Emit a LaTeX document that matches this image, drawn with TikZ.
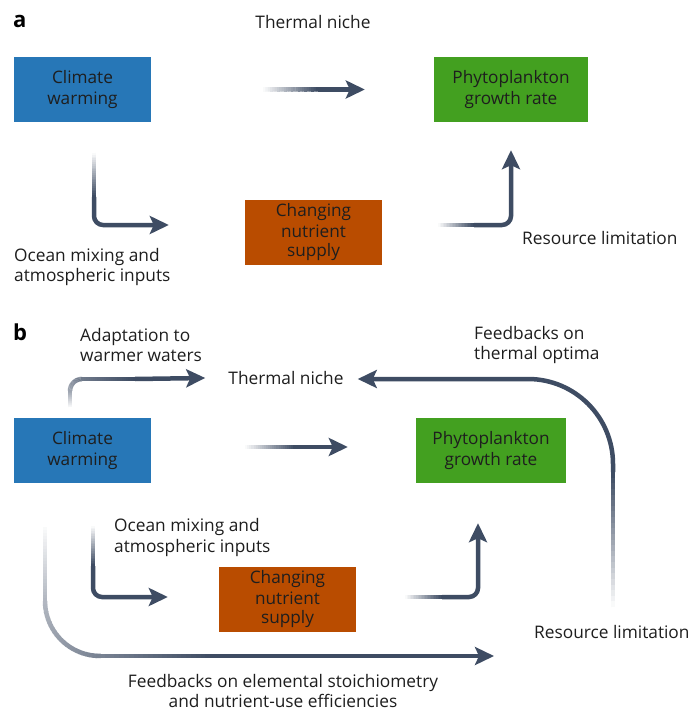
\documentclass[tikz,border=0pt]{standalone}
\usepackage{fontspec}
\setmainfont{Open Sans}
\usetikzlibrary{arrows.meta,calc}
\definecolor{arr}{HTML}{3E4C63}
\definecolor{cblue}{HTML}{2777B7}
\definecolor{cgreen}{HTML}{43A020}
\definecolor{corange}{HTML}{B94C00}
\definecolor{txt}{HTML}{1E1E1E}
\tikzset{
  arrline/.style={line width=4.5pt, line cap=butt},
  arrow/.style={arrline, draw=arr, -{Stealth[length=19pt,width=18pt,inset=4pt]}},
  box/.style={minimum height=65pt, inner sep=0pt, align=center, text=txt,
    font=\fontsize{17.2}{20.5}\selectfont},
  lbl/.style={inner sep=0pt, align=left, text=txt, font=\fontsize{17.3}{20.5}\selectfont},
  clbl/.style={lbl, align=center},
  panel/.style={inner sep=0pt, font=\fontsize{22}{24}\selectfont\bfseries, text=black}
}
% gradient straight segment from (#1) to (#2), colour #3 -> #4 percent
\newcommand\gline[4]{%
  \foreach \k in {0,...,23}{%
    \pgfmathsetmacro\fa{\k/24}%
    \pgfmathsetmacro\fb{(\k+1.2)/24}%
    \pgfmathsetmacro\cc{#3+(#4-#3)*\k/23}%
    \draw[arrline, draw=arr!\cc!white] ($(#1)!\fa!(#2)$) -- ($(#1)!\fb!(#2)$);
  }}
% gradient arc: centre (#1,#2), radius #3, angles #4 -> #5, colour #6 -> #7
\newcommand\garc[7]{%
  \foreach \k in {0,...,23}{%
    \pgfmathsetmacro\aa{#4+(#5-#4)*\k/24}%
    \pgfmathsetmacro\ab{#4+(#5-#4)*(\k+1.2)/24}%
    \pgfmathsetmacro\cc{#6+(#7-#6)*\k/23}%
    \pgfmathsetmacro\px{#1+#3*cos(\aa)}%
    \pgfmathsetmacro\py{#2+#3*sin(\aa)}%
    \draw[arrline, draw=arr!\cc!white] (\px,\py) arc[start angle=\aa, end angle=\ab, radius=#3];
  }}
\begin{document}
\begin{tikzpicture}[x=1pt,y=-1pt]
\useasboundingbox[fill=white] (0,0) rectangle (691,711);

% ---------------- panel a ----------------
\node[panel, anchor=west] (pa) at (13,21) {a};
\node[clbl] (thA) at (313,22) {Thermal niche};
\node[box, fill=cblue, minimum width=137pt] (cwA) at (82.5,89.5) {Climate\\warming};
\node[box, fill=cgreen, minimum width=154pt] (phA) at (511,89.5) {Phytoplankton\\growth rate};
\node[box, fill=corange, minimum width=137pt] (nuA) at (313.5,232.5) {Changing\\nutrient\\[-1pt]supply};
\node[lbl, anchor=west] (omA) at (14,267) {Ocean mixing and\\atmospheric inputs};
\node[lbl, anchor=west] (rlA) at (522,238) {Resource limitation};

\coordinate (a1s) at ($(cwA.east)+(112,0)$);
\coordinate (a1m) at ($(cwA.east)+(167,0)$);
\coordinate (a1e) at ($(phA.west)+(-69,0)$);
\gline{a1s}{a1m}{3}{100}
\draw[arrow] (a1m) -- (a1e);

\coordinate (a2s) at (94,153);
\coordinate (a2m) at (94,197);
\coordinate (a2e) at ($(nuA.west)+(-76,-7.5)$);
\gline{a2s}{a2m}{3}{100}
\draw[arrow, rounded corners=9pt] (a2m) |- (a2e);

\coordinate (a3s) at ($(nuA.east)+(56,-7.5)$);
\coordinate (a3m) at ($(nuA.east)+(92,-7.5)$);
\coordinate (a3e) at ($(phA.south)+(0,28)$);
\gline{a3s}{a3m}{3}{100}
\draw[arrow, rounded corners=9pt] (a3m) -| (a3e);

% ---------------- panel b ----------------
\node[panel, anchor=west] (pb) at (13,332) {b};
\node[lbl, anchor=west] (adB) at (80,345) {Adaptation to\\warmer waters};
\node[clbl] (thB) at (286,378) {Thermal niche};
\node[lbl, anchor=west] (ftB) at (474,345) {Feedbacks on\\thermal optima};
\node[box, fill=cblue, minimum width=137pt] (cwB) at (82.5,450.5) {Climate\\warming};
\node[box, fill=cgreen, minimum width=150pt] (phB) at (491,450.5) {Phytoplankton\\growth rate};
\node[lbl, anchor=west] (omB) at (114,537.5) {Ocean mixing and\\atmospheric inputs};
\node[box, fill=corange, minimum width=137pt] (nuB) at (287.5,599.5) {Changing\\nutrient\\[-1pt]supply};
\node[lbl, anchor=west] (rlB) at (534,632) {Resource limitation};
\node[clbl] (feB) at (283,691) {Feedbacks on elemental stoichiometry\\and nutrient-use efficiencies};

% adaptation arrow
\coordinate (b1s) at (70,407);
\coordinate (b1m) at (70,391);
\coordinate (b1n) at (82,379);
\coordinate (b1o) at (135,379);
\coordinate (b1e) at ($(thB.west)+(-23,0)$);
\gline{b1s}{b1m}{3}{50}
\garc{82}{391}{12}{180}{270}{50}{75}
\gline{b1n}{b1o}{75}{100}
\draw[arrow] (b1o) -- (b1e);

% thermal niche horizontal
\coordinate (b2s) at ($(cwB.east)+(94,-3.5)$);
\coordinate (b2m) at ($(cwB.east)+(144,-3.5)$);
\coordinate (b2e) at ($(phB.west)+(-68,-3.5)$);
\gline{b2s}{b2m}{3}{100}
\draw[arrow] (b2m) -- (b2e);

% feedbacks on thermal optima
\coordinate (b3s) at (613,607);
\coordinate (b3m) at (613,472);
\coordinate (b3e) at ($(thB.east)+(14,1)$);
\gline{b3s}{b3m}{3}{100}
\draw[arrow, rounded corners=85pt] (b3m) |- (b3e);

% ocean mixing arrow
\coordinate (b4s) at (93,526);
\coordinate (b4m) at (93,566);
\coordinate (b4e) at ($(nuB.west)+(-51,-2.5)$);
\gline{b4s}{b4m}{3}{100}
\draw[arrow, rounded corners=9pt] (b4m) |- (b4e);

% resource limitation arrow
\coordinate (b5s) at ($(nuB.east)+(49,-2.5)$);
\coordinate (b5m) at ($(nuB.east)+(86,-2.5)$);
\coordinate (b5e) at ($(phB.south)+(-13,40)$);
\gline{b5s}{b5m}{3}{100}
\draw[arrow, rounded corners=9pt] (b5m) -| (b5e);

% feedbacks on elemental stoichiometry
\coordinate (b6s) at (45,527);
\coordinate (b6m) at (45,601);
\coordinate (b6n) at (100,656);
\coordinate (b6o) at (215,656);
\coordinate (b6e) at (494,656);
\gline{b6s}{b6m}{3}{40}
\garc{100}{601}{55}{180}{90}{40}{70}
\gline{b6n}{b6o}{70}{100}
\draw[arrow] (b6o) -- (b6e);
\end{tikzpicture}
\end{document}
